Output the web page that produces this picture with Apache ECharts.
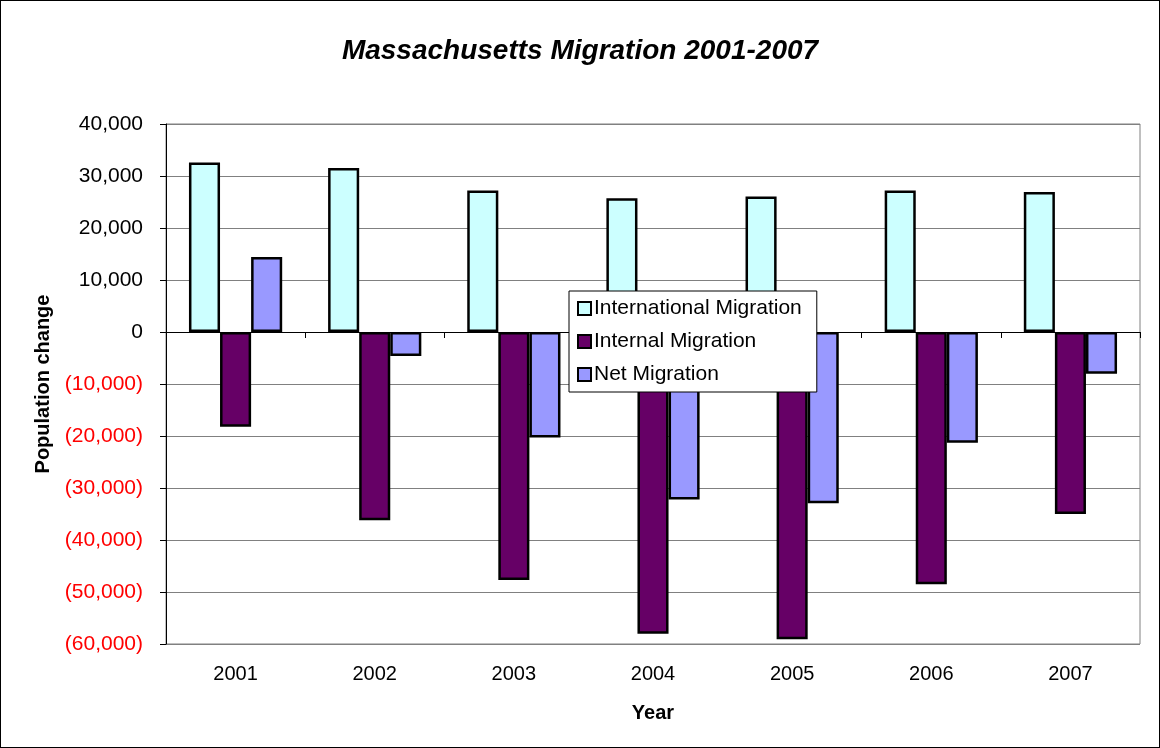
<!DOCTYPE html>
<html>
<head>
<meta charset="utf-8">
<script src="https://cdn.jsdelivr.net/npm/echarts@6/dist/echarts.min.js"></script>
<style>
  html, body { margin: 0; padding: 0; background: #fff; }
  #chart { width: 1160px; height: 748px; box-sizing: border-box; border: 1px solid #000; }
</style>
</head>
<body>
<div id="chart"></div>
<script>
// 数据
var years = ['2001', '2002', '2003', '2004', '2005', '2006', '2007'];
var international = [32600, 31550, 27200, 25700, 26050, 27200, 26900];
var internal = [-18200, -36200, -47700, -58050, -59100, -48500, -35000];
var net = [14400, -4600, -20300, -32200, -32950, -21300, -8050];

var myChart = echarts.init(document.getElementById('chart'));

function fmt(v) {
    var s = Math.abs(v).toLocaleString('en-US');
    if (v < 0) return '{neg|(' + s + ')}';
    return '{pos|' + s + '}';
}

var barStyle = function (c) {
    return { color: c, borderColor: '#000', borderWidth: 2.5 };
};

var option = {
    animation: false,
    title: {
        text: 'Massachusetts Migration 2001-2007',
        left: 'center',
        top: 31,
        textStyle: { fontFamily: 'Arial', fontSize: 28, fontStyle: 'italic', fontWeight: 'bold', color: '#000' }
    },
    legend: {
        orient: 'vertical',
        left: 568,
        top: 290,
        padding: [7, 15, 7, 8],
        itemGap: 12,
        itemWidth: 13,
        itemHeight: 13,
        backgroundColor: '#fff',
        borderColor: '#000',
        borderWidth: 1,
        icon: 'rect',
        itemStyle: { borderColor: '#000', borderWidth: 2 },
        textStyle: { fontFamily: 'Arial', fontSize: 21, color: '#000', padding: [0, 0, 0, -2] },
        data: ['International Migration', 'Internal Migration', 'Net Migration']
    },
    grid: {
        left: 165,
        right: 19,
        top: 123,
        bottom: 103,
        show: true,
        borderColor: '#808080',
        borderWidth: 1
    },
    xAxis: [
        {
            type: 'category',
            data: years,
            axisLine: { onZero: true, lineStyle: { color: '#000', width: 1 } },
            axisTick: { show: true, length: 6, inside: false, lineStyle: { color: '#000' } },
            axisLabel: { show: false }
        },
        {
            type: 'category',
            data: years,
            position: 'bottom',
            axisLine: { show: false, onZero: false },
            axisTick: { show: false },
            axisLabel: { fontFamily: 'Arial', fontSize: 20, color: '#000', margin: 20 },
            name: 'Year',
            nameLocation: 'middle',
            nameGap: 59,
            nameTextStyle: { fontFamily: 'Arial', fontSize: 20, fontWeight: 'bold', color: '#000' }
        }
    ],
    yAxis: {
        type: 'value',
        min: -60000,
        max: 40000,
        interval: 10000,
        name: 'Population change',
        nameLocation: 'middle',
        nameGap: 104,
        nameTextStyle: { fontFamily: 'Arial', fontSize: 20, fontWeight: 'bold', color: '#000' },
        axisLine: { show: true, lineStyle: { color: '#000', width: 1 } },
        axisTick: { show: true, length: 6, lineStyle: { color: '#000' } },
        splitLine: { show: true, lineStyle: { color: '#808080', width: 1 } },
        axisLabel: {
            margin: 23,
            formatter: fmt,
            rich: {
                pos: { fontFamily: 'Arial', fontSize: 21, color: '#000' },
                neg: { fontFamily: 'Arial', fontSize: 21, color: '#ff0000' }
            }
        }
    },
    series: [
        {
            name: 'International Migration',
            type: 'bar',
            data: international,
            barGap: '0%',
            barCategoryGap: '33%',
            itemStyle: barStyle('#ccffff')
        },
        {
            name: 'Internal Migration',
            type: 'bar',
            data: internal,
            itemStyle: barStyle('#660066')
        },
        {
            name: 'Net Migration',
            type: 'bar',
            data: net,
            itemStyle: barStyle('#9999ff')
        }
    ]
};

myChart.setOption(option);
</script>
</body>
</html>
